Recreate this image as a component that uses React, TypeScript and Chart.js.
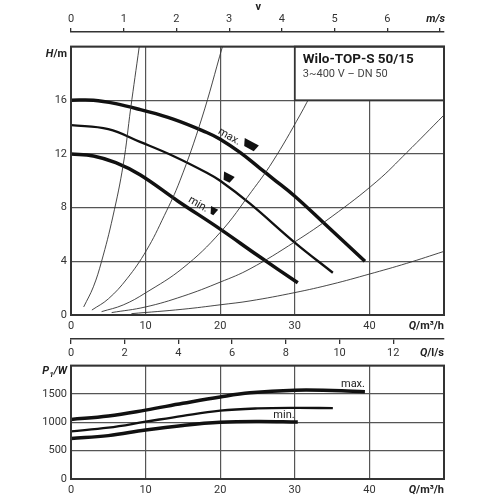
import React, { useEffect, useRef } from 'react';
import { Chart, registerables } from 'chart.js';

Chart.register(...registerables);

// ---------- data ----------
// Pump head curves H(Q), Q in m³/h, H in m
const headQmax = [0, 3, 6, 9.3, 13.7, 18.2, 20, 22.7, 25.3, 27.1, 30, 34, 39.4];
const headHmax = [16.0, 16.0, 15.75, 15.3, 14.6, 13.6, 13.1, 12.1, 10.95, 10.15, 8.85, 6.8, 4.0];
const headQmid = [0, 5, 9.25, 13.7, 18.2, 20, 24, 30, 35.1];
const headHmid = [14.15, 13.85, 12.9, 11.85, 10.6, 10.0, 8.3, 5.4, 3.15];
const headQmin = [0, 3, 6, 9.25, 14.3, 20, 25, 30.4];
const headHmin = [12.0, 11.85, 11.35, 10.45, 8.5, 6.4, 4.45, 2.4];

// System curves (thin)
const sysAQ = [1.7, 3, 4.1, 5.6, 7, 8, 9.15];
const sysAH = [0.6, 2.1, 4.0, 7.3, 11.2, 15.4, 20];
const sysBQ = [2.8, 5, 7.5, 10.1, 12.5, 14.6, 17.5, 20.3];
const sysBH = [0.37, 1.2, 2.7, 4.8, 7.4, 10.0, 14.6, 20];
const sysCQ = [4.1, 7, 10, 15, 20, 24.2, 27, 30.7, 32.5];
const sysCH = [0.25, 0.75, 1.65, 3.5, 6.15, 9.2, 11.4, 14.9, 16.8];
const sysDQ = [5.45, 10, 15, 20, 24, 30, 35, 41, 45, 50];
const sysDH = [0.18, 0.6, 1.4, 2.45, 3.44, 5.45, 7.35, 9.96, 12.1, 14.9];
const sysEQ = [8.1, 15, 20, 24, 30, 35, 40, 45, 50];
const sysEH = [0.1, 0.43, 0.76, 1.05, 1.67, 2.3, 3.05, 3.85, 4.74];

// Power curves P1(Q), W
const powQmax = [0, 5, 10, 15, 20, 24, 30, 35, 39.4];
const powPmax = [1050, 1110, 1215, 1335, 1448, 1520, 1565, 1560, 1540];
const powQmid = [0, 5, 10, 15, 20, 25, 30, 35.1];
const powPmid = [840, 905, 1010, 1115, 1205, 1245, 1255, 1250];
const powQmin = [0, 5, 10, 15, 20, 25, 30.4];
const powPmin = [715, 765, 865, 945, 1000, 1015, 1005];

// Axis ranges / ticks
const qRange = [0, 50];
const qStep = 10;
const hRange = [0, 20];
const hStep = 4;
const pRange = [0, 2000];
const pStep = 500;
const vRange = [0, 7.074]; // m/s for DN 50 at 0..50 m³/h
const vStep = 1;
const lsRange = [0, 13.889]; // l/s for 0..50 m³/h
const lsStep = 2;

// Annotations (data coordinates)
const headLabels = [
  { text: 'max.', q: 21.2, h: 13.28 },
  { text: 'min.', q: 17.06, h: 8.24 },
];
const headMarkers = [
  { q: 24.0, h: 12.67, w: 16, hh: 7.5 },
  { q: 21.0, h: 10.24, w: 12, hh: 7.5 },
  { q: 19.03, h: 7.75, w: 8, hh: 7 },
];
const powLabels = [
  { text: 'max.', q: 37.8, p: 1672 },
  { text: 'min.', q: 28.55, p: 1121 },
];
const boxQ = [30, 50];
const boxH = [16, 20];
const boxTitle = 'Wilo-TOP-S 50/15';
const boxSub = '3~400 V – DN 50';

// ---------- styling ----------
const FONT = 'Roboto';
const TICK = '#333';
const GRID = '#555';
const INK = '#111';
const tickFont = { family: FONT, size: 11 };

type Seg = { t: string; font: string; dy?: number };
function drawRich(ctx: CanvasRenderingContext2D, segs: Seg[], x: number, y: number, align: 'left' | 'right' | 'center', color = '#222') {
  ctx.save();
  ctx.fillStyle = color;
  ctx.textBaseline = 'middle';
  ctx.textAlign = 'left';
  let total = 0;
  segs.forEach((s) => { ctx.font = s.font; total += ctx.measureText(s.t).width; });
  let cx = align === 'left' ? x : align === 'right' ? x - total : x - total / 2;
  segs.forEach((s) => {
    ctx.font = s.font;
    ctx.fillText(s.t, cx, y + (s.dy || 0));
    cx += ctx.measureText(s.t).width;
  });
  ctx.restore();
}
const BI = (px: number) => `italic bold ${px}px ${FONT}`;
const B = (px: number) => `bold ${px}px ${FONT}`;
const R = (px: number) => `${px}px ${FONT}`;

const pts = (qs: number[], vs: number[]) => qs.map((q, i) => ({ x: q, y: vs[i] }));
const line = (qs: number[], vs: number[], width: number, color = INK) => ({
  data: pts(qs, vs),
  borderColor: color,
  borderWidth: width,
  pointRadius: 0,
  fill: false,
  tension: 0.4,
  borderCapStyle: 'butt',
});

function frame(chart: any) {
  const { ctx, chartArea: a } = chart;
  ctx.save();
  ctx.strokeStyle = '#333';
  ctx.lineWidth = 2;
  ctx.strokeRect(a.left, a.top, a.right - a.left, a.bottom - a.top);
  ctx.restore();
}

function marker(ctx: CanvasRenderingContext2D, x: number, y: number, w: number, h: number, ang: number) {
  ctx.save();
  ctx.translate(x, y);
  ctx.rotate(ang);
  ctx.beginPath();
  ctx.moveTo(-w / 2, -h / 2);
  ctx.lineTo(w / 2, -h / 2);
  ctx.lineTo(w / 2 - h * 0.25, h / 2);
  ctx.lineTo(-w / 2 + h * 0.45, h / 2);
  ctx.closePath();
  ctx.fillStyle = INK;
  ctx.fill();
  ctx.restore();
}

const base = {
  animation: false,
  responsive: true,
  maintainAspectRatio: false,
  events: [],
  plugins: { legend: { display: false }, tooltip: { enabled: false } },
};

// ---------- charts ----------
function vAxisConfig(): any {
  return {
    type: 'line',
    data: { datasets: [] },
    options: {
      ...base,
      layout: { padding: { left: 71, right: 56, top: 0, bottom: 0 } },
      scales: {
        x: {
          type: 'linear', position: 'top', min: vRange[0], max: vRange[1],
          ticks: { stepSize: vStep, includeBounds: false, font: tickFont, color: TICK, padding: 2, maxRotation: 0,
            callback: (v: number) => (v >= 7 ? '' : v) },
          grid: { drawOnChartArea: false, drawTicks: true, tickLength: 4, color: '#333', lineWidth: 1.3 },
          border: { display: true, color: '#333', width: 1.5 },
          afterFit: (s: any) => { s.height = 32; },
        },
        y: { display: false, min: 0, max: 1 },
      },
    },
    plugins: [{
      id: 'vlabels',
      afterDraw(chart: any) {
        const { ctx, chartArea: a } = chart;
        drawRich(ctx, [{ t: 'm/s', font: BI(11) }], a.right + 1, a.top - 12.5, 'right');
        const xv = chart.scales.x.getPixelForValue(3.55);
        drawRich(ctx, [{ t: 'v', font: B(11) }], xv, a.top - 25, 'center');
      },
    }],
  };
}

function headConfig(): any {
  return {
    type: 'line',
    data: {
      datasets: [
        line(sysAQ, sysAH, 0.9, '#333'),
        line(sysBQ, sysBH, 0.9, '#333'),
        line(sysCQ, sysCH, 0.9, '#333'),
        line(sysDQ, sysDH, 0.9, '#333'),
        line(sysEQ, sysEH, 0.9, '#333'),
        line(headQmin, headHmin, 3.5),
        line(headQmid, headHmid, 2.3),
        line(headQmax, headHmax, 3.5),
      ],
    },
    options: {
      ...base,
      layout: { padding: { left: 0, right: 56, top: 8, bottom: 0 } },
      scales: {
        x: {
          type: 'linear', min: qRange[0], max: qRange[1],
          ticks: { stepSize: qStep, font: tickFont, color: TICK, padding: 4.5, maxRotation: 0,
            callback: (v: number) => (v === qRange[1] ? '' : v) },
          grid: { color: GRID, lineWidth: 1.2, drawTicks: false },
          border: { display: false },
          afterFit: (s: any) => { s.height = 21; },
        },
        y: {
          type: 'linear', min: hRange[0], max: hRange[1],
          ticks: { stepSize: hStep, font: tickFont, color: TICK, padding: 4,
            callback: (v: number) => (v === hRange[1] ? '' : v) },
          grid: { color: GRID, lineWidth: 1.2, drawTicks: false },
          border: { display: false },
          afterFit: (s: any) => { s.width = 71; },
        },
      },
    },
    plugins: [{
      id: 'headDeco',
      afterDatasetsDraw(chart: any) {
        const { ctx, chartArea: a, scales } = chart;
        const x = scales.x, y = scales.y;
        // info box
        const bx0 = x.getPixelForValue(boxQ[0]);
        const bx1 = x.getPixelForValue(boxQ[1]);
        const by0 = y.getPixelForValue(boxH[1]);
        const by1 = y.getPixelForValue(boxH[0]);
        ctx.save();
        ctx.fillStyle = '#fff';
        ctx.fillRect(bx0, by0, bx1 - bx0, by1 - by0);
        ctx.strokeStyle = '#333';
        ctx.lineWidth = 1.8;
        ctx.strokeRect(bx0, by0, bx1 - bx0, by1 - by0);
        ctx.restore();
        drawRich(ctx, [{ t: boxTitle, font: B(13.5) }], bx0 + 8, by0 + 13, 'left', '#1a1a1a');
        drawRich(ctx, [{ t: boxSub, font: R(11) }], bx0 + 8, by0 + 27.5, 'left', '#444');
        frame(chart);
        // markers and labels
        const ang = (28 * Math.PI) / 180;
        headMarkers.forEach((m) => marker(ctx, x.getPixelForValue(m.q), y.getPixelForValue(m.h), m.w, m.hh, ang));
        headLabels.forEach((l) => {
          ctx.save();
          ctx.translate(x.getPixelForValue(l.q), y.getPixelForValue(l.h));
          ctx.rotate((30 * Math.PI) / 180);
          drawRich(ctx, [{ t: l.text, font: R(11) }], 0, 0, 'center', '#222');
          ctx.restore();
        });
        // axis unit labels
        drawRich(ctx, [{ t: 'H', font: BI(11) }, { t: '/m', font: B(11) }], a.left - 4, a.top + 8, 'right');
        drawRich(ctx, [{ t: 'Q', font: BI(11) }, { t: '/m³/h', font: B(11) }], a.right, a.bottom + 11, 'right');
      },
    }],
  };
}

function lsAxisConfig(): any {
  return {
    type: 'line',
    data: { datasets: [] },
    options: {
      ...base,
      layout: { padding: { left: 71, right: 56, top: 0, bottom: 0 } },
      scales: {
        x: {
          type: 'linear', position: 'bottom', min: lsRange[0], max: lsRange[1],
          ticks: { stepSize: lsStep, includeBounds: false, font: tickFont, color: TICK, padding: 2.4, maxRotation: 0 },
          grid: { drawOnChartArea: false, drawTicks: true, tickLength: 5, color: '#333', lineWidth: 1.3 },
          border: { display: true, color: '#333', width: 1.5 },
          afterFit: (s: any) => { s.height = 31; },
        },
        y: { display: false, min: 0, max: 1 },
      },
    },
    plugins: [{
      id: 'lslabels',
      afterDraw(chart: any) {
        const { ctx, chartArea: a } = chart;
        drawRich(ctx, [{ t: 'Q', font: BI(11) }, { t: '/l/s', font: B(11) }], a.right, a.bottom + 14, 'right');
      },
    }],
  };
}

function powerConfig(): any {
  return {
    type: 'line',
    data: {
      datasets: [
        line(powQmin, powPmin, 3.5),
        line(powQmid, powPmid, 2.3),
        line(powQmax, powPmax, 3.5),
      ],
    },
    options: {
      ...base,
      layout: { padding: { left: 0, right: 56, top: 8, bottom: 0 } },
      scales: {
        x: {
          type: 'linear', min: qRange[0], max: qRange[1],
          ticks: { stepSize: qStep, font: tickFont, color: TICK, padding: 4.5, maxRotation: 0,
            callback: (v: number) => (v === qRange[1] ? '' : v) },
          grid: { color: GRID, lineWidth: 1.2, drawTicks: false },
          border: { display: false },
          afterFit: (s: any) => { s.height = 21; },
        },
        y: {
          type: 'linear', min: pRange[0], max: pRange[1],
          ticks: { stepSize: pStep, font: tickFont, color: TICK, padding: 4,
            callback: (v: number) => (v === pRange[1] ? '' : v) },
          grid: { color: GRID, lineWidth: 1.2, drawTicks: false },
          border: { display: false },
          afterFit: (s: any) => { s.width = 71; },
        },
      },
    },
    plugins: [{
      id: 'powDeco',
      afterDatasetsDraw(chart: any) {
        const { ctx, chartArea: a, scales } = chart;
        frame(chart);
        powLabels.forEach((l) => {
          drawRich(ctx, [{ t: l.text, font: R(11) }], scales.x.getPixelForValue(l.q), scales.y.getPixelForValue(l.p), 'center', '#222');
        });
        drawRich(ctx, [{ t: 'P', font: BI(11) }, { t: '1', font: BI(8), dy: 3 }, { t: '/W', font: BI(11) }], a.left - 4, a.top + 6, 'right');
        drawRich(ctx, [{ t: 'Q', font: BI(11) }, { t: '/m³/h', font: B(11) }], a.right, a.bottom + 11, 'right');
      },
    }],
  };
}

function ChartBox({ top, height, make }: { top: number; height: number; make: () => any }) {
  const ref = useRef<HTMLCanvasElement>(null);
  useEffect(() => {
    const chart = new Chart(ref.current as HTMLCanvasElement, make());
    return () => chart.destroy();
  }, []);
  return (
    <div style={{ position: 'absolute', left: 0, top, width: 500, height }}>
      <canvas ref={ref} />
    </div>
  );
}

export default function App() {
  return (
    <div style={{ position: 'absolute', left: 0, top: 0, width: 500, height: 500, background: '#fff', overflow: 'hidden' }}>
      <ChartBox top={0} height={36} make={vAxisConfig} />
      <ChartBox top={36} height={300} make={headConfig} />
      <ChartBox top={332} height={38} make={lsAxisConfig} />
      <ChartBox top={355} height={145} make={powerConfig} />
    </div>
  );
}
